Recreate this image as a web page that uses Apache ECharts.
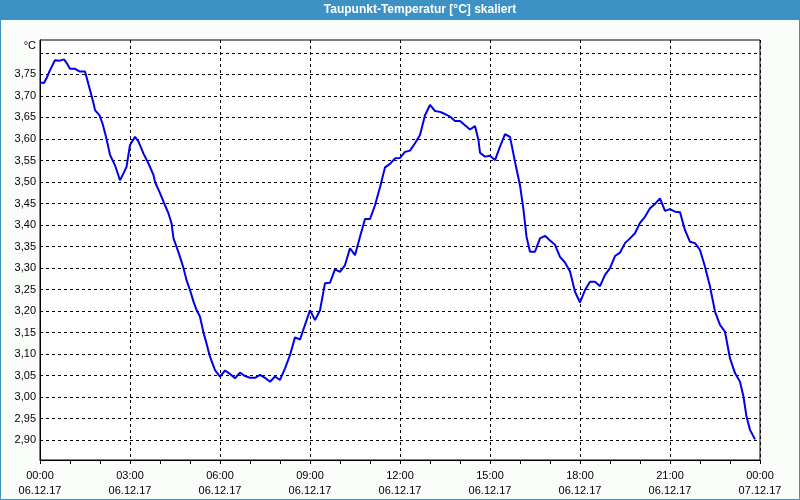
<!DOCTYPE html>
<html>
<head>
<meta charset="utf-8">
<script src="https://cdn.jsdelivr.net/npm/echarts@6/dist/echarts.min.js"></script>
<style>
html,body{margin:0;padding:0;background:#fbfdfb;}
#chart{width:800px;height:500px;}
</style>
</head>
<body>
<div id="chart"></div>
<script>
// minutes since 06.12.17 00:00
var minutes = [0,8,13,20,30,40,48,53,60,70,79,90,93,100,107,110,119,125,132,140,150,160,167,173,180,190,197,207,217,227,230,240,250,257,263,267,273,280,287,293,300,307,313,320,327,333,340,350,360,370,380,390,400,410,420,430,440,450,460,470,480,490,500,510,520,530,540,550,560,570,580,590,600,610,620,630,640,650,660,670,680,690,700,710,720,730,740,750,760,770,780,790,800,810,820,830,840,850,860,870,877,880,890,900,910,920,930,940,950,960,967,973,980,990,1000,1010,1020,1030,1040,1050,1060,1070,1080,1090,1100,1110,1120,1130,1140,1150,1160,1170,1180,1190,1200,1210,1220,1230,1240,1250,1260,1270,1280,1290,1300,1310,1320,1330,1340,1350,1360,1370,1380,1390,1400,1407,1413,1420,1430];
var dewpoint = [3.731,3.730,3.741,3.760,3.783,3.782,3.785,3.777,3.763,3.763,3.757,3.757,3.744,3.714,3.683,3.667,3.655,3.636,3.605,3.563,3.539,3.504,3.520,3.535,3.586,3.605,3.594,3.566,3.543,3.516,3.500,3.474,3.446,3.427,3.404,3.369,3.350,3.326,3.300,3.272,3.249,3.222,3.203,3.187,3.150,3.125,3.094,3.063,3.048,3.062,3.054,3.044,3.057,3.049,3.045,3.045,3.052,3.045,3.036,3.048,3.040,3.067,3.098,3.139,3.134,3.168,3.202,3.179,3.202,3.265,3.266,3.297,3.291,3.307,3.346,3.330,3.373,3.414,3.414,3.446,3.488,3.534,3.542,3.555,3.556,3.570,3.573,3.590,3.609,3.655,3.679,3.665,3.663,3.658,3.652,3.642,3.642,3.632,3.622,3.630,3.597,3.568,3.559,3.561,3.551,3.582,3.611,3.605,3.547,3.492,3.435,3.373,3.338,3.338,3.369,3.375,3.364,3.354,3.326,3.313,3.292,3.245,3.220,3.249,3.268,3.268,3.258,3.284,3.300,3.328,3.336,3.358,3.369,3.381,3.405,3.419,3.439,3.449,3.462,3.433,3.437,3.431,3.430,3.388,3.361,3.358,3.342,3.303,3.257,3.199,3.168,3.152,3.090,3.056,3.036,3.001,2.955,2.924,2.902];
var yGridValues = [2.90,2.95,3.00,3.05,3.10,3.15,3.20,3.25,3.30,3.35,3.40,3.45,3.50,3.55,3.60,3.65,3.70,3.75,3.80];
var yLabelValues = [2.90,2.95,3.00,3.05,3.10,3.15,3.20,3.25,3.30,3.35,3.40,3.45,3.50,3.55,3.60,3.65,3.70,3.75];
var xTimeLabels = ['00:00','03:00','06:00','09:00','12:00','15:00','18:00','21:00','00:00'];
var xDateLabels = ['06.12.17','06.12.17','06.12.17','06.12.17','06.12.17','06.12.17','06.12.17','06.12.17','07.12.17'];
var titleText = 'Taupunkt-Temperatur [°C] skaliert';
var unitText = '°C';

var FONT = '"Liberation Sans", Arial, sans-serif';
var chart = echarts.init(document.getElementById('chart'), null, {renderer: 'canvas'});
var seriesData = minutes.map(function (m, i) { return [m, dewpoint[i]]; });

chart.setOption({
  animation: false,
  backgroundColor: '#fbfdfb',
  textStyle: {fontFamily: FONT},
  grid: {left: 40, right: 40, top: 40, bottom: 40, show: true, backgroundColor: '#ffffff', borderColor: '#000000', borderWidth: 1},
  xAxis: [{
    type: 'value', min: 0, max: 1440, interval: 180,
    axisLine: {show: true, lineStyle: {color: '#000', width: 1}},
    axisTick: {show: false},
    splitLine: {show: true, lineStyle: {color: '#000', type: [3, 3], width: 1}},
    axisLabel: {
      color: '#000', fontSize: 11, fontFamily: FONT, lineHeight: 15, margin: 8,
      showMinLabel: true, showMaxLabel: true,
      formatter: function (v) { var i = Math.round(v / 180); return xTimeLabels[i] + '\n' + xDateLabels[i]; }
    }
  }, {
    type: 'value', min: 0, max: 1440, interval: 60, position: 'bottom',
    axisLine: {show: false},
    axisTick: {show: true, inside: false, length: 4, lineStyle: {color: '#000', width: 1}},
    splitLine: {show: false},
    axisLabel: {show: false}
  }],
  yAxis: {
    type: 'value', min: 2.854, max: 3.83,
    axisLine: {show: true, lineStyle: {color: '#000', width: 1}},
    axisTick: {show: false, customValues: yGridValues},
    splitLine: {show: true, lineStyle: {color: '#000', type: [3, 3], width: 1}},
    axisLabel: {
      color: '#000', fontSize: 11, fontFamily: FONT, margin: 4,
      customValues: yLabelValues,
      formatter: function (v) { return v.toFixed(2).replace('.', ','); }
    }
  },
  graphic: [
    {type: 'rect', shape: {x: 0, y: 0, width: 800, height: 20}, style: {fill: '#3d91c4'}, z: 10},
    {type: 'rect', shape: {x: 0.5, y: 0.5, width: 799, height: 499}, style: {fill: null, stroke: '#3d91c4', lineWidth: 1}, z: 10},
    {type: 'text', x: 420, y: 10, style: {text: titleText, fill: '#ffffff', font: 'bold 12px ' + FONT, textAlign: 'center', textVerticalAlign: 'middle'}, z: 11},
    {type: 'text', x: 36, y: 46, style: {text: unitText, fill: '#000', font: '11px ' + FONT, textAlign: 'right', textVerticalAlign: 'middle'}, z: 11}
  ],
  series: [{
    type: 'line', xAxisIndex: 0, data: seriesData, showSymbol: false, symbol: 'none',
    lineStyle: {color: '#0000ee', width: 2}, itemStyle: {color: '#0000ee'}, z: 5
  }]
});
</script>
</body>
</html>
